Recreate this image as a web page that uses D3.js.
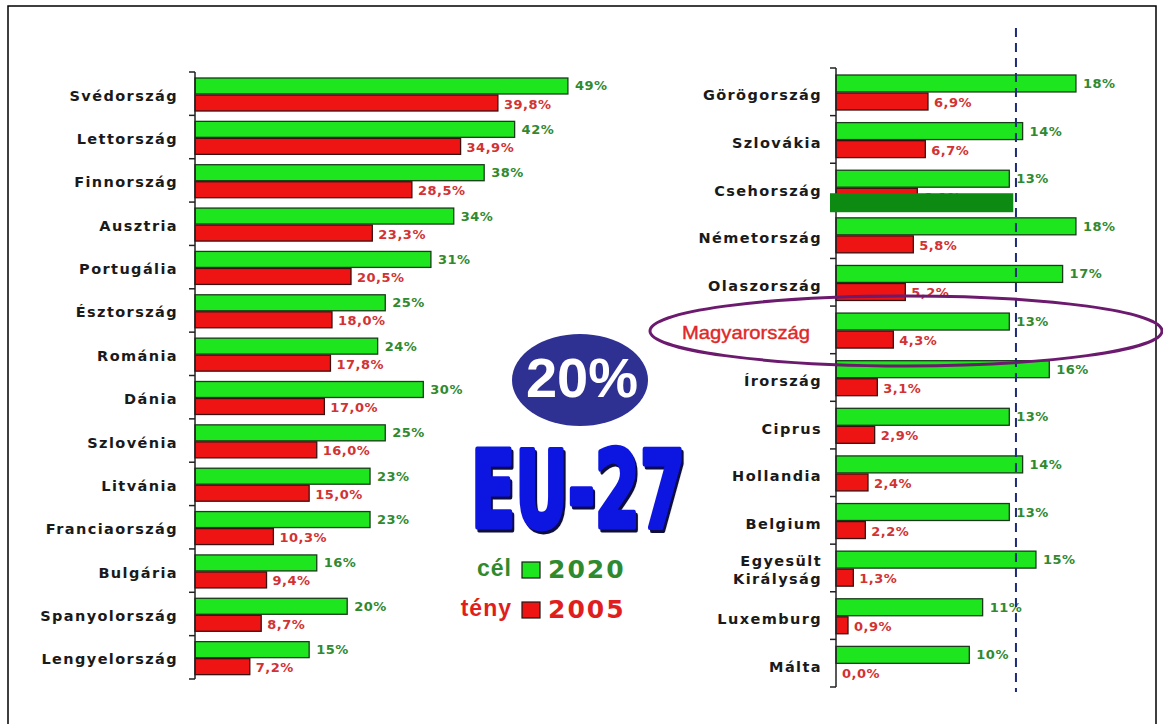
<!DOCTYPE html>
<html>
<head>
<meta charset="utf-8">
<script src="https://cdn.jsdelivr.net/npm/d3@7"></script>
<style>
  html, body { margin: 0; padding: 0; background: #fff; }
  svg { display: block; font-family: "DejaVu Sans", "Liberation Sans", Arial, sans-serif; }
</style>
</head>
<body>
<svg id="chart" width="1163" height="724"></svg>
<script>
// Renewable energy share: 2020 target (cél) vs 2005 actual (tény), EU-27
const leftCountries = ["Svédország","Lettország","Finnország","Ausztria","Portugália","Észtország","Románia","Dánia","Szlovénia","Litvánia","Franciaország","Bulgária","Spanyolország","Lengyelország"];
const leftTarget = [49,42,38,34,31,25,24,30,25,23,23,16,20,15];
const leftActual = [39.8,34.9,28.5,23.3,20.5,18.0,17.8,17.0,16.0,15.0,10.3,9.4,8.7,7.2];

const rightCountries = ["Görögország","Szlovákia","Csehország","Németország","Olaszország","Magyarország","Írország","Ciprus","Hollandia","Belgium","Egyesült Királyság","Luxemburg","Málta"];
const rightTarget = [18,14,13,18,17,13,16,13,14,13,15,11,10];
const rightActual = [6.9,6.7,6.1,5.8,5.2,4.3,3.1,2.9,2.4,2.2,1.3,0.9,0.0];

const seriesKeys = ["cél","tény"];
const legendYears = ["2020","2005"];
const euTarget = 20;
const referenceLine = 13.5;

const GREEN = "#1ee61e", RED = "#ee1414";
const GREEN_TXT = "#2f8a2f", RED_TXT = "#d23232";
const ARIAL = "'Liberation Sans', Arial, sans-serif";
const NARROW = "'Liberation Sans Narrow', 'DejaVu Sans Condensed', sans-serif";

const svg = d3.select("#chart");

// drop shadow for the title
const shadow = svg.append("defs").append("filter").attr("id", "shadow")
  .attr("x", "-10%").attr("y", "-10%").attr("width", "120%").attr("height", "130%");
shadow.append("feDropShadow").attr("dx", 3).attr("dy", 3).attr("stdDeviation", 0.6)
  .attr("flood-color", "#0a0a40").attr("flood-opacity", 1);

// page frame
svg.append("rect").attr("x", 8).attr("y", 6).attr("width", 1148).attr("height", 730)
  .attr("fill", "#fff").attr("stroke", "#000").attr("stroke-width", 1.5);

const fmtT = v => d3.format("d")(v) + "%";
const fmtA = v => d3.format(".1f")(v).replace(".", ",") + "%";

function panel(cfg) {
  const {countries, target, actual, x0, xMax, pxPerUnit, top, bottom, sub, labelX, labelDy, highlight} = cfg;
  const x = d3.scaleLinear().domain([0, xMax]).range([x0, x0 + xMax * pxPerUnit]);
  const y = d3.scaleBand().domain(countries).range([top, bottom]);
  const ys = d3.scaleBand().domain(seriesKeys).range(sub).paddingInner(0.06);
  const g = svg.append("g");

  const rows = countries.map((c, i) => ({c, t: target[i], a: actual[i]}));
  const row = g.selectAll("g.row").data(rows).join("g")
    .attr("transform", d => `translate(0,${y(d.c)})`);

  row.append("rect").attr("x", x(0)).attr("y", ys("cél"))
    .attr("width", d => x(d.t) - x(0)).attr("height", ys.bandwidth())
    .attr("fill", GREEN).attr("stroke", "#1a3a1a").attr("stroke-width", 1.3);
  row.filter(d => d.a > 0).append("rect").attr("x", x(0)).attr("y", ys("tény"))
    .attr("width", d => x(d.a) - x(0)).attr("height", ys.bandwidth())
    .attr("fill", RED).attr("stroke", "#3a1010").attr("stroke-width", 1.3);

  row.append("text").attr("x", d => x(d.t) + 7).attr("y", ys("cél") + ys.bandwidth() / 2 + 1)
    .attr("dominant-baseline", "middle").attr("font-size", 13).attr("font-weight", "bold")
    .attr("letter-spacing", 0.5).attr("fill", GREEN_TXT).text(d => fmtT(d.t));
  row.append("text").attr("x", d => x(d.a) + 6).attr("y", ys("tény") + ys.bandwidth() / 2 + 2)
    .attr("dominant-baseline", "middle").attr("font-size", 13).attr("font-weight", "bold")
    .attr("letter-spacing", 0.5).attr("fill", RED_TXT).text(d => fmtA(d.a));

  // category labels
  row.each(function (d) {
    const sel = d3.select(this);
    const cy = y.bandwidth() / 2 + labelDy;
    const t = sel.append("text").attr("x", labelX).attr("text-anchor", "end")
      .attr("dominant-baseline", "middle").attr("letter-spacing", 1.4);
    if (d.c === highlight) {
      t.attr("x", labelX - 12).attr("y", cy).style("font-family", ARIAL)
        .attr("font-size", 19).attr("fill", "#e02828").attr("stroke", "#e02828").attr("stroke-width", 0.4)
        .attr("letter-spacing", 0).attr("textLength", 128).attr("lengthAdjust", "spacingAndGlyphs").text(d.c);
    } else if (d.c.includes(" ")) {
      const parts = d.c.split(" ");
      t.attr("font-size", 14.5).attr("font-weight", "bold").attr("fill", "#1a1a1a");
      t.append("tspan").attr("x", labelX).attr("y", cy - 10).text(parts[0]);
      t.append("tspan").attr("x", labelX).attr("y", cy + 8).text(parts[1]);
    } else {
      t.attr("y", cy).attr("font-size", 14.5).attr("font-weight", "bold").attr("fill", "#1a1a1a").text(d.c);
    }
  });

  // axis line with ticks on band boundaries
  g.append("line").attr("x1", x(0)).attr("x2", x(0)).attr("y1", top).attr("y2", bottom)
    .attr("stroke", "#222").attr("stroke-width", 1.5);
  const bounds = countries.map(c => y(c)).concat([bottom]);
  g.selectAll("line.tick").data(bounds).join("line")
    .attr("x1", x(0) - 6).attr("x2", x(0)).attr("y1", d => d).attr("y2", d => d)
    .attr("stroke", "#222").attr("stroke-width", 1.5);
  return {x, y, ys};
}

const L = panel({countries: leftCountries, target: leftTarget, actual: leftActual,
  x0: 195, xMax: 50, pxPerUnit: 7.61, top: 72, bottom: 679, sub: [6, 39], labelX: 178, labelDy: 3});
const R = panel({countries: rightCountries, target: rightTarget, actual: rightActual,
  x0: 836, xMax: 20, pxPerUnit: 13.33, top: 68, bottom: 687, sub: [7, 42], labelX: 822, labelDy: 4.5,
  highlight: "Magyarország"});

// dark green band across the Csehország row
const cz = R.y("Csehország");
svg.append("rect").attr("x", R.x(0) - 6).attr("y", cz + 30)
  .attr("width", R.x(13.3) - R.x(0) + 6).attr("height", 19)
  .attr("fill", "#0d8a12");

// dashed reference line
svg.append("line").attr("x1", R.x(referenceLine)).attr("x2", R.x(referenceLine))
  .attr("y1", 28).attr("y2", 692).attr("stroke", "#1f2a7a").attr("stroke-width", 2)
  .attr("stroke-dasharray", "9,6");

// highlight ellipse around Hungary
const hu = R.y("Magyarország") + R.y.bandwidth() / 2;
svg.append("ellipse").attr("cx", 906).attr("cy", hu + 1).attr("rx", 256).attr("ry", 35)
  .attr("fill", "none").attr("stroke", "#6b1a6e").attr("stroke-width", 3);

// EU-wide target badge
svg.append("ellipse").attr("cx", 580).attr("cy", 380).attr("rx", 68).attr("ry", 46)
  .attr("fill", "#2e3192");
svg.append("text").attr("x", 582).attr("y", 382).attr("text-anchor", "middle")
  .attr("dominant-baseline", "middle").style("font-family", ARIAL)
  .attr("font-size", 56).attr("font-weight", "bold")
  .attr("fill", "#fff").text(euTarget + "%");

// EU-27 title: squeezed horizontally to a fixed width
const titleWidth = 214, titleCx = 578, titleBase = 527;
const title = svg.append("text").attr("x", 0).attr("y", 0).attr("text-anchor", "middle")
  .style("font-family", NARROW)
  .attr("font-size", 106).attr("font-weight", "bold").attr("fill", "#0a14e0")
  .attr("stroke", "#0a14e0").attr("stroke-width", 5).attr("stroke-linejoin", "round")
  .attr("filter", "url(#shadow)").text("EU-27");
const natural = title.node().getBBox().width;
title.attr("transform", `translate(${titleCx},${titleBase}) scale(${titleWidth / natural},1)`);

// legend
const legendColors = [GREEN, RED], legendText = ["#2f8a2f", "#e01e1e"];
const lg = svg.append("g").selectAll("g").data(seriesKeys).join("g")
  .attr("transform", (d, i) => `translate(0,${570 + i * 40})`);
lg.append("text").attr("x", 512).attr("y", 0).attr("text-anchor", "end")
  .attr("dominant-baseline", "middle").style("font-family", ARIAL)
  .attr("font-size", 23).attr("font-weight", "bold").attr("letter-spacing", 1)
  .attr("fill", (d, i) => legendText[i]).text(d => d);
lg.append("rect").attr("x", 522).attr("y", -8).attr("width", 18).attr("height", 16)
  .attr("fill", (d, i) => legendColors[i]).attr("stroke", "#1a1a1a").attr("stroke-width", 1.2);
lg.append("text").attr("x", 548).attr("y", 1).attr("dominant-baseline", "middle")
  .attr("font-size", 25).attr("font-weight", "bold").attr("letter-spacing", 2)
  .attr("fill", (d, i) => legendText[i]).text((d, i) => legendYears[i]);
</script>
</body>
</html>
